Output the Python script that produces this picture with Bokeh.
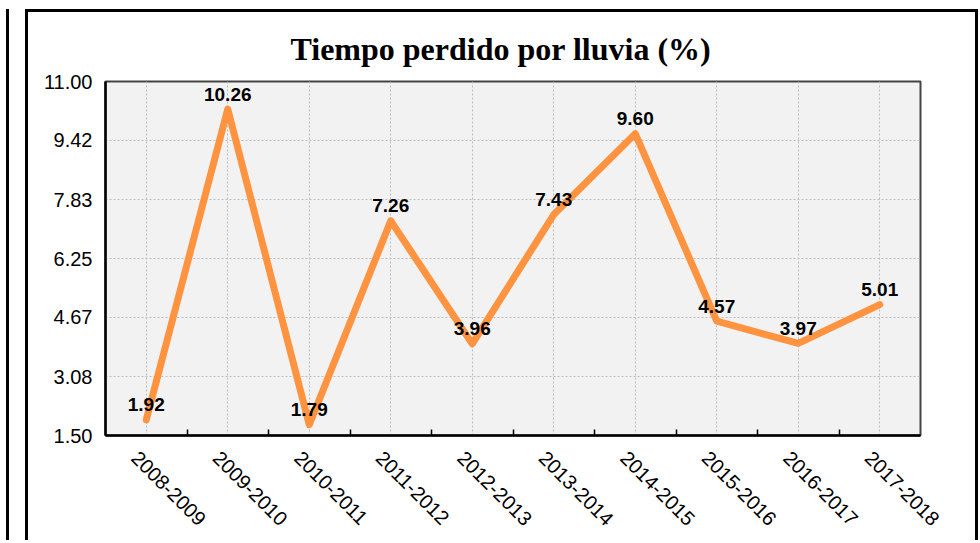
from bokeh.plotting import figure
from bokeh.models import ColumnDataSource, FixedTicker, Range1d, PrintfTickFormatter
from bokeh.core.properties import value
from bokeh.embed import file_html
from bokeh.resources import INLINE
import math

# ---- data ----
seasons = ["2008-2009", "2009-2010", "2010-2011", "2011-2012", "2012-2013",
           "2013-2014", "2014-2015", "2015-2016", "2016-2017", "2017-2018"]
lost_pct = [1.92, 10.26, 1.79, 7.26, 3.96, 7.43, 9.60, 4.57, 3.97, 5.01]
y_ticks = [1.50, 3.08, 4.67, 6.25, 7.83, 9.42, 11.00]
title_text = "Tiempo perdido por lluvia (%)"

n = len(seasons)
xs = [i + 0.5 for i in range(n)]
label_pos = [x - 0.14 for x in xs]   # rotated labels hang slightly left of centre
src = ColumnDataSource(dict(x=xs, y=lost_pct, season=seasons,
                            lbl=[f"{v:.2f}" for v in lost_pct]))

# figure element sits inside the black frame (frame drawn with box-shadows)
LEFT, TOP = 28, 12
W, H = 975 - LEFT, 543 - TOP
p = figure(width=W, height=H, output_backend="svg", toolbar_location=None,
           x_range=Range1d(0, n), y_range=Range1d(y_ticks[0], y_ticks[-1]),
           min_border_left=105 - LEFT, min_border_right=975 - 920,
           min_border_top=81 - TOP, min_border_bottom=543 - 435,
           margin=(TOP, 0, 0, LEFT))
p.styles = {"box-shadow": "-3px -3px 0 0 black, -19px -3px 0 0 white, "
                          "-22px -3px 0 0 black, 3px -3px 0 0 black"}
p.background_fill_color = "#f2f2f2"
p.border_fill_color = "white"
p.outline_line_color = "#444444"
p.outline_line_width = 2

p.title.text = title_text
p.title.align = "left"
p.title.offset = 185
p.title.standoff = 29
p.title.text_font = "Liberation Serif"
p.title.text_font_style = "bold"
p.title.text_font_size = "32px"
p.title.text_color = "black"

# line and value labels
p.line("x", "y", source=src, line_color="#ff9340", line_width=7,
       line_cap="round", line_join="round")
p.text("x", "y", text="lbl", source=src, text_align="center",
       text_baseline="middle", y_offset=-15, text_font=value("Liberation Sans"),
       text_font_style="bold", text_font_size="19px", text_color="black")

# axes
xa = p.xaxis[0]
xa.ticker = FixedTicker(ticks=label_pos, minor_ticks=list(range(1, n)))
xa.major_label_overrides = {x: s for x, s in zip(label_pos, seasons)}
xa.major_label_orientation = -math.pi / 4
xa.major_tick_line_color = None
xa.minor_tick_in = 6
xa.minor_tick_out = 0
xa.minor_tick_line_color = "black"
xa.minor_tick_line_width = 1.5
xa.axis_line_color = "black"
xa.axis_line_width = 2.5
xa.major_label_text_font = "Liberation Sans"
xa.major_label_text_font_size = "20px"
xa.major_label_text_color = "black"
xa.major_label_standoff = 13

ya = p.yaxis[0]
ya.ticker = FixedTicker(ticks=y_ticks)
ya.formatter = PrintfTickFormatter(format="%.2f")
ya.major_tick_line_color = None
ya.minor_tick_line_color = None
ya.axis_line_color = "black"
ya.axis_line_width = 2.5
ya.major_label_text_font = "Liberation Sans"
ya.major_label_text_font_size = "20px"
ya.major_label_text_color = "black"
ya.major_label_standoff = 7

p.xgrid.ticker = FixedTicker(ticks=xs)
p.ygrid.ticker = FixedTicker(ticks=y_ticks)
for g in (p.xgrid[0], p.ygrid[0]):
    g.grid_line_color = "#bdbdbd"
    g.grid_line_dash = "2 2"
    g.grid_line_width = 1

open("out.html", "w").write(file_html(p, INLINE))
